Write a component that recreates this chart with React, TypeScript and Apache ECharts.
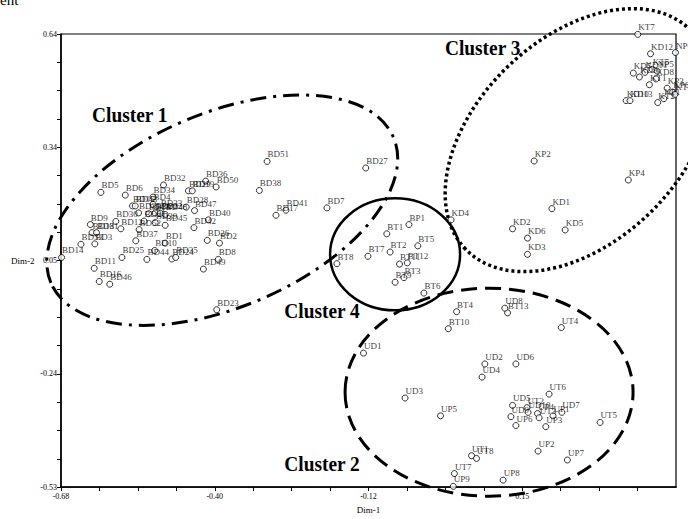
import React, { useEffect, useRef } from 'react';
import * as echarts from 'echarts';

const X_MIN = -0.68;
const X_MAX = 0.43;
const Y_MIN = -0.53;
const Y_MAX = 0.64;
const xTickLabels = ['-0.68', '-0.40', '-0.12', '0.15', '0.43'];
const yTickLabels = ['-0.53', '-0.24', '0.05', '0.34', '0.64'];

type P = [string, number, number];

const bdPoints: P[] = [
  ['BD5', -0.608, 0.231], ['BD6', -0.564, 0.224], ['BD32', -0.495, 0.25],
  ['BD29', -0.45, 0.235], ['BD19', -0.443, 0.235], ['BD36', -0.419, 0.26],
  ['BD50', -0.4, 0.245], ['BD34', -0.514, 0.219], ['BD4', -0.514, 0.2],
  ['BD15', -0.551, 0.196], ['BD43', -0.546, 0.196], ['BD28', -0.454, 0.193],
  ['BD47', -0.439, 0.184], ['BD33', -0.501, 0.185], ['BD31', -0.54, 0.178],
  ['BD18', -0.522, 0.176], ['BD20', -0.51, 0.178], ['BD22', -0.501, 0.177],
  ['BD48', -0.492, 0.174], ['BD40', -0.414, 0.16], ['BD42', -0.44, 0.14],
  ['BD45', -0.492, 0.146], ['BD39', -0.51, 0.153], ['BD21', -0.53, 0.157],
  ['BD9', -0.627, 0.148], ['BD30', -0.581, 0.156], ['BD12', -0.572, 0.137],
  ['BD13', -0.624, 0.127], ['BD81', -0.616, 0.127], ['BD3', -0.619, 0.098],
  ['BD53', -0.644, 0.097], ['BD37', -0.545, 0.106], ['BD52', -0.539, 0.135],
  ['BD1', -0.492, 0.1], ['BD10', -0.511, 0.081], ['BD44', -0.525, 0.058],
  ['BD25', -0.57, 0.063], ['BD24', -0.48, 0.059], ['BD35', -0.473, 0.063],
  ['BD11', -0.62, 0.035], ['BD26', -0.416, 0.107], ['BD2', -0.394, 0.1],
  ['BD8', -0.396, 0.058], ['BD49', -0.423, 0.033], ['BD14', -0.679, 0.063],
  ['BD16', -0.611, 0.001], ['BD46', -0.592, -0.006], ['BD23', -0.399, -0.072],
  ['BD38', -0.322, 0.236], ['BD51', -0.308, 0.311], ['BD41', -0.274, 0.185],
  ['BD17', -0.292, 0.172], ['BD7', -0.2, 0.191], ['BD27', -0.13, 0.294],
];

const btPoints: P[] = [
  ['BP1', -0.052, 0.148], ['BT1', -0.092, 0.124], ['BT5', -0.036, 0.093],
  ['BT2', -0.086, 0.077], ['BT7', -0.126, 0.066], ['BT8', -0.182, 0.047],
  ['BT11', -0.069, 0.046], ['BT12', -0.055, 0.049], ['BT3', -0.061, 0.011],
  ['BT9', -0.077, -0.001], ['BT6', -0.025, -0.029], ['BT4', 0.034, -0.077],
  ['BT10', 0.019, -0.121], ['BT13', 0.126, -0.08], ['UD8', 0.121, -0.068],
];

const kPoints: P[] = [
  ['KD4', 0.024, 0.16], ['KP2', 0.174, 0.312], ['KD1', 0.206, 0.189],
  ['KD2', 0.135, 0.137], ['KD5', 0.23, 0.134], ['KD6', 0.162, 0.113],
  ['KD3', 0.162, 0.071], ['KP4', 0.344, 0.263], ['KT7', 0.361, 0.639],
  ['KD12', 0.384, 0.589], ['NP6', 0.429, 0.592], ['KD7', 0.353, 0.539],
  ['KD9', 0.364, 0.529], ['KT5', 0.387, 0.549], ['NP5', 0.396, 0.544],
  ['KD11', 0.374, 0.541], ['KD8', 0.394, 0.524], ['KT1', 0.382, 0.509],
  ['KP3', 0.414, 0.5], ['KP6', 0.424, 0.49], ['KT6', 0.428, 0.484],
  ['KD10', 0.34, 0.468], ['KD13', 0.347, 0.468], ['KT2', 0.397, 0.463],
  ['KP1', 0.408, 0.473],
];

const uPoints: P[] = [
  ['UD1', -0.134, -0.184], ['UD2', 0.085, -0.212], ['UD6', 0.141, -0.212],
  ['UD4', 0.08, -0.246], ['UD3', -0.059, -0.3], ['UP5', 0.005, -0.346],
  ['UD5', 0.135, -0.319], ['UT2', 0.161, -0.325], ['UD10', 0.163, -0.337],
  ['UP4', 0.18, -0.34], ['UT3', 0.183, -0.351], ['UP1', 0.208, -0.346],
  ['UD7', 0.224, -0.337], ['UD9', 0.132, -0.348], ['UP6', 0.141, -0.371],
  ['UP3', 0.195, -0.374], ['UT6', 0.201, -0.29], ['UT4', 0.223, -0.118],
  ['UT5', 0.293, -0.363], ['UP2', 0.181, -0.437], ['UP7', 0.234, -0.46],
  ['UP8', 0.118, -0.512], ['UT1', 0.061, -0.449], ['UT8', 0.07, -0.456],
  ['UT7', 0.03, -0.495], ['UP9', 0.028, -0.528],
];

// cluster outlines: centre in data units, semi-axes in px, rotation in degrees
const clusterShapes = [
  { name: 'Cluster 1', cx: -0.389, cy: 0.185, rx: 186, ry: 97, rot: 23, dash: [16, 7, 3, 7], width: 3 },
  { name: 'Cluster 4', cx: -0.077, cy: 0.071, rx: 65, ry: 56, rot: 0, dash: null, width: 2.5 },
  { name: 'Cluster 3', cx: 0.254, cy: 0.366, rx: 157, ry: 102, rot: 44, dash: [3, 3], width: 3.5 },
  { name: 'Cluster 2', cx: 0.0926, cy: -0.285, rx: 144, ry: 104, rot: 0, dash: [16, 8], width: 3 },
];

const clusterTexts: [string, number, number][] = [
  ['Cluster 1', -0.624, 0.433],
  ['Cluster 3', 0.013, 0.605],
  ['Cluster 4', -0.277, -0.075],
  ['Cluster 2', -0.277, -0.469],
];

const SERIF = '"Liberation Serif", "Times New Roman", serif';

export default function App() {
  const ref = useRef<HTMLDivElement>(null);
  useEffect(() => {
    const chart = echarts.init(ref.current!, null, { renderer: 'svg' });
    const majorX = xTickLabels.map((_, i) => X_MIN + ((X_MAX - X_MIN) * i) / 4);
    const majorY = yTickLabels.map((_, i) => Y_MIN + ((Y_MAX - Y_MIN) * i) / 4);
    const minorX = Array.from({ length: 17 }, (_, i) => X_MIN + ((X_MAX - X_MIN) * i) / 16);
    const minorY = Array.from({ length: 17 }, (_, i) => Y_MIN + ((Y_MAX - Y_MIN) * i) / 16);
    const nearest = (vals: number[], labels: string[], v: number) => {
      let bi = 0;
      vals.forEach((m, i) => {
        if (Math.abs(m - v) < Math.abs(vals[bi] - v)) bi = i;
      });
      return labels[bi];
    };
    const all = [...bdPoints, ...btPoints, ...kPoints, ...uPoints];
    chart.setOption({
      animation: false,
      backgroundColor: '#fff',
      grid: { left: 61, top: 34, width: 615, height: 463, show: true, borderColor: '#000', borderWidth: 1.2 },
      xAxis: {
        type: 'value', min: X_MIN, max: X_MAX,
        name: 'Dim-1', nameLocation: 'middle', nameGap: 17,
        nameTextStyle: { fontFamily: SERIF, fontSize: 9, color: '#000' },
        axisLine: { show: true, onZero: false, lineStyle: { color: '#000', width: 1.5 } },
        axisTick: { show: true, length: 4, customValues: minorX, lineStyle: { color: '#000', width: 1 } },
        axisLabel: {
          customValues: majorX, margin: 5, fontFamily: SERIF, fontSize: 8, color: '#000',
          formatter: (v: number) => nearest(majorX, xTickLabels, v),
        },
        splitLine: { show: false },
      },
      yAxis: {
        type: 'value', min: Y_MIN, max: Y_MAX,
        name: 'Dim-2', nameLocation: 'middle', nameRotate: 0, nameGap: 14,
        nameTextStyle: { fontFamily: SERIF, fontSize: 9, color: '#000', align: 'right' },
        axisLine: { show: true, onZero: false, lineStyle: { color: '#000', width: 1.5 } },
        axisTick: { show: true, length: 4, customValues: minorY, lineStyle: { color: '#000', width: 1 } },
        axisLabel: {
          customValues: majorY, margin: 4, fontFamily: SERIF, fontSize: 8, color: '#000',
          formatter: (v: number) => nearest(majorY, yTickLabels, v),
        },
        splitLine: { show: false },
      },
      series: [
        {
          type: 'scatter',
          data: all.map((p) => ({ name: p[0], value: [p[1], p[2]] })),
          symbol: 'circle',
          symbolSize: 6,
          itemStyle: { color: '#fff', borderColor: '#000', borderWidth: 1 },
          label: {
            show: true,
            formatter: (d: any) => d.name,
            position: [4, 1],
            align: 'left',
            verticalAlign: 'bottom',
            fontFamily: SERIF,
            fontSize: 9,
            color: '#000',
          },
          z: 3,
        },
      ],
    });

    const graphics: any[] = [];
    clusterShapes.forEach((c) => {
      const [px, py] = chart.convertToPixel({ gridIndex: 0 }, [c.cx, c.cy]) as number[];
      graphics.push({
        type: 'ellipse',
        x: px, y: py,
        rotation: (c.rot * Math.PI) / 180,
        shape: { cx: 0, cy: 0, rx: c.rx, ry: c.ry },
        style: { fill: 'none', stroke: '#000', lineWidth: c.width, lineDash: c.dash || undefined },
        silent: true,
        z: 1,
      });
    });
    clusterTexts.forEach((t) => {
      const [px, py] = chart.convertToPixel({ gridIndex: 0 }, [t[1], t[2]]) as number[];
      graphics.push({
        type: 'text',
        x: px, y: py,
        scaleX: 0.88,
        style: { text: t[0], fontFamily: SERIF, fontWeight: 'bold', fontSize: 22, fill: '#000', verticalAlign: 'middle', align: 'left' },
        z: 5,
      });
    });
    graphics.push({
      type: 'text', x: 0, y: -8,
      style: { text: 'ent', fontFamily: SERIF, fontSize: 15, fill: '#000', verticalAlign: 'top', align: 'left' },
    });
    chart.setOption({ graphic: graphics });
    return () => chart.dispose();
  }, []);
  return (
    <div
      ref={ref}
      style={{ position: 'absolute', left: 0, top: 0, width: 688, height: 519, background: '#fff' }}
    />
  );
}
